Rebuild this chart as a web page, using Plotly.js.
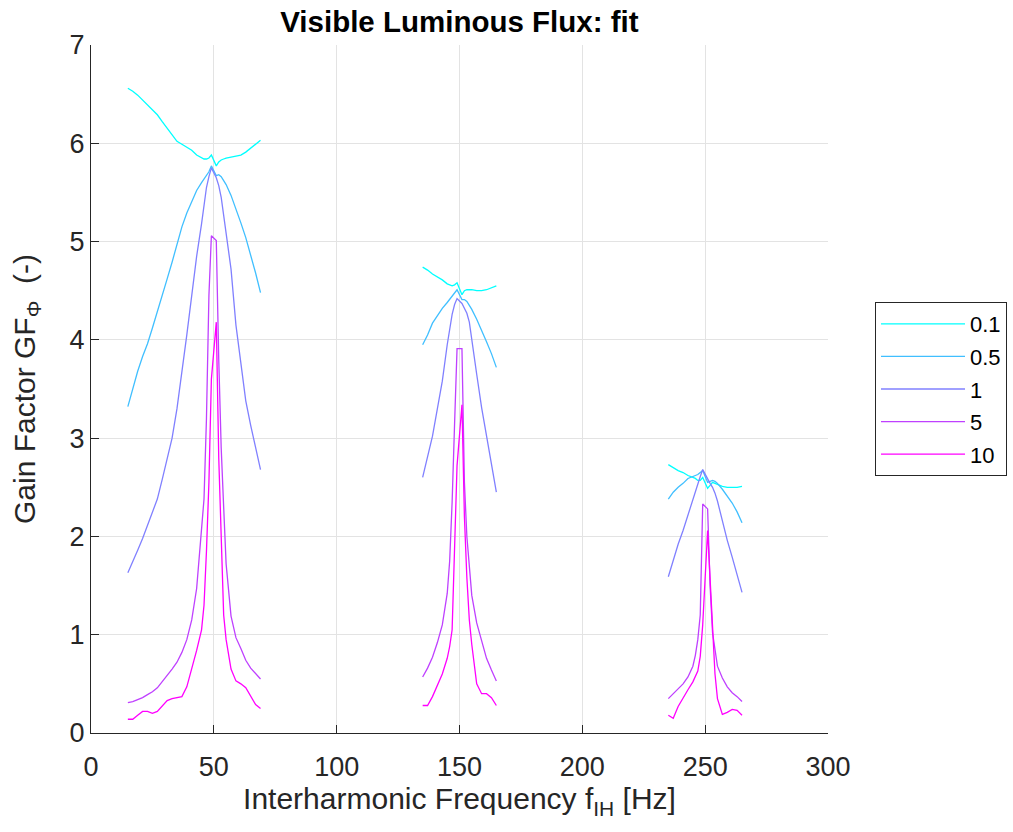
<!DOCTYPE html>
<html>
<head>
<meta charset="utf-8">
<script src="https://cdn.plot.ly/plotly-3.0.1.min.js"></script>
<style>
  html, body { margin: 0; padding: 0; background: #ffffff; }
  #chart { width: 1013px; height: 832px; }
</style>
</head>
<body>
<div id="chart"></div>
<script>
// Frequencies (Hz) for the three interharmonic groups
const xG1 = [15,17,19,21,23,25,27,29,31,33,35,37,39,41,43,45,46,47,48,49,51,52,53,54,55,57,59,61,63,65,67,69];
const xG2 = [135,137,139,141,143,145,146,147,148,149,151,152,153,154,155,157,159,161,163,165];
const xG3 = [235,237,239,241,243,245,246,247,248,249,251,252,253,254,255,257,259,261,263,265];

// Series names (legend)
const seriesNames = ["0.1", "0.5", "1", "5", "10"];

// Gain factor values, series 0.1
const s01_G1 = [6.56,6.53,6.49,6.44,6.39,6.34,6.29,6.22,6.15,6.08,6.02,5.99,5.96,5.93,5.88,5.85,5.84,5.84,5.85,5.88,5.77,5.81,5.83,5.84,5.85,5.86,5.87,5.88,5.91,5.95,5.99,6.03];
const s01_G2 = [4.74,4.71,4.67,4.64,4.61,4.57,4.56,4.55,4.56,4.58,4.46,4.50,4.51,4.51,4.51,4.50,4.50,4.51,4.53,4.55];
const s01_G3 = [2.73,2.70,2.67,2.65,2.62,2.60,2.59,2.57,2.57,2.60,2.49,2.52,2.55,2.54,2.53,2.51,2.50,2.50,2.50,2.51];

// series 0.5
const s05_G1 = [3.32,3.50,3.68,3.83,3.96,4.12,4.28,4.44,4.62,4.79,4.97,5.15,5.29,5.41,5.52,5.60,5.64,5.67,5.71,5.77,5.67,5.68,5.66,5.62,5.58,5.47,5.34,5.19,5.04,4.87,4.68,4.48];
const s05_G2 = [3.95,4.05,4.17,4.25,4.32,4.38,4.41,4.44,4.47,4.51,4.41,4.41,4.39,4.35,4.31,4.21,4.10,3.98,3.86,3.72];
const s05_G3 = [2.38,2.45,2.50,2.54,2.59,2.61,2.62,2.63,2.65,2.67,2.55,2.56,2.57,2.56,2.54,2.48,2.41,2.34,2.25,2.14];

// series 1
const s1_G1 = [1.63,1.74,1.86,1.98,2.12,2.25,2.38,2.58,2.78,3.00,3.30,3.65,4.05,4.45,4.85,5.18,5.37,5.55,5.66,5.75,5.65,5.57,5.45,5.28,5.10,4.72,4.15,3.75,3.38,3.13,2.90,2.68];
const s1_G2 = [2.60,2.82,3.02,3.30,3.58,3.95,4.13,4.26,4.36,4.42,4.37,4.32,4.27,4.18,4.02,3.65,3.31,3.03,2.75,2.45];
const s1_G3 = [1.59,1.76,1.92,2.06,2.22,2.39,2.47,2.55,2.61,2.68,2.58,2.54,2.50,2.44,2.36,2.15,1.96,1.79,1.62,1.43];

// series 5
const s5_G1 = [0.31,0.32,0.34,0.36,0.39,0.42,0.46,0.52,0.58,0.65,0.72,0.82,0.95,1.15,1.47,2.05,2.38,3.20,4.45,5.06,5.01,3.80,2.90,2.30,1.72,1.19,0.97,0.86,0.74,0.66,0.60,0.55];
const s5_G2 = [0.57,0.66,0.77,0.92,1.10,1.42,1.75,2.35,3.15,3.91,3.91,2.55,2.00,1.65,1.40,1.12,0.93,0.76,0.64,0.53];
const s5_G3 = [0.35,0.40,0.45,0.50,0.57,0.68,0.79,0.95,1.20,2.33,2.28,1.50,1.02,0.82,0.68,0.56,0.47,0.41,0.37,0.32];

// series 10
const s10_G1 = [0.14,0.14,0.18,0.22,0.22,0.20,0.22,0.28,0.33,0.35,0.36,0.37,0.47,0.65,0.84,1.05,1.30,1.85,2.55,3.60,4.18,2.80,1.90,1.20,0.95,0.65,0.53,0.50,0.46,0.38,0.29,0.25];
const s10_G2 = [0.28,0.28,0.37,0.48,0.60,0.76,0.88,1.05,1.85,2.72,3.34,2.20,1.58,1.15,0.90,0.50,0.40,0.40,0.36,0.28];
const s10_G3 = [0.18,0.15,0.27,0.36,0.44,0.52,0.57,0.63,0.78,1.10,2.06,1.55,1.04,0.60,0.35,0.19,0.21,0.24,0.23,0.18];

const seriesColors = ["#00ffff", "#40bfff", "#8080ff", "#bf40ff", "#ff00ff"];

const groups = [
  [s01_G1, s01_G2, s01_G3],
  [s05_G1, s05_G2, s05_G3],
  [s1_G1, s1_G2, s1_G3],
  [s5_G1, s5_G2, s5_G3],
  [s10_G1, s10_G2, s10_G3]
];

const xAll = xG1.concat([null], xG2, [null], xG3);
const FONT = "Liberation Sans, Arial, Helvetica, sans-serif";

const traces = groups.map(function (g, i) {
  return {
    type: "scatter",
    mode: "lines",
    name: seriesNames[i],
    legendgroup: "g" + i,
    x: xAll,
    y: g[0].concat([null], g[1], [null], g[2]),
    connectgaps: false,
    line: { color: seriesColors[i], width: 1.3 },
    hoverinfo: "x+y+name"
  };
});

const layout = {
  width: 1013,
  height: 832,
  margin: { l: 91, r: 185, t: 45, b: 99, pad: 0 },
  paper_bgcolor: "#ffffff",
  plot_bgcolor: "#ffffff",
  font: { family: FONT, color: "#262626" },
  showlegend: true,
  title: {
    text: "<b>Visible Luminous Flux: fit</b>",
    font: { family: FONT, size: 29.5, color: "#000000" },
    x: 0.4535, xanchor: "center",
    y: 0.974, yanchor: "middle"
  },
  xaxis: {
    range: [0, 300],
    tickmode: "array",
    tickvals: [0, 50, 100, 150, 200, 250, 300],
    ticks: "inside", ticklen: 8, tickwidth: 1, tickcolor: "#262626",
    ticklabelstandoff: 10,
    showline: true, linecolor: "#262626", linewidth: 1, mirror: false,
    showgrid: true, gridcolor: "#e3e3e3", gridwidth: 1,
    zeroline: false, automargin: false,
    tickfont: { family: FONT, size: 27, color: "#262626" },
    title: { text: "Interharmonic Frequency f<sub>IH</sub> [Hz]", font: { family: FONT, size: 30, color: "#262626" }, standoff: 6 }
  },
  yaxis: {
    range: [0, 7],
    tickmode: "array",
    tickvals: [0, 1, 2, 3, 4, 5, 6, 7],
    ticks: "inside", ticklen: 8, tickwidth: 1, tickcolor: "#262626",
    showline: true, linecolor: "#262626", linewidth: 1, mirror: false,
    showgrid: true, gridcolor: "#e3e3e3", gridwidth: 1,
    zeroline: false, automargin: false,
    tickfont: { family: FONT, size: 27, color: "#262626" },
    title: { text: "Gain Factor GF<sub>Φ</sub>  (-)", font: { family: FONT, size: 30, color: "#262626" }, standoff: 25 }
  },
  legend: {
    xref: "container", yref: "container",
    x: 875 / 1013, xanchor: "left",
    y: 1 - 302 / 832, yanchor: "top",
    bgcolor: "#ffffff",
    bordercolor: "#262626", borderwidth: 1,
    font: { family: FONT, size: 22, color: "#000000" },
    itemwidth: 84,
    tracegroupgap: 1,
    traceorder: "grouped"
  }
};

Plotly.newPlot("chart", traces, layout, { displayModeBar: false, staticPlot: true });
</script>
</body>
</html>
